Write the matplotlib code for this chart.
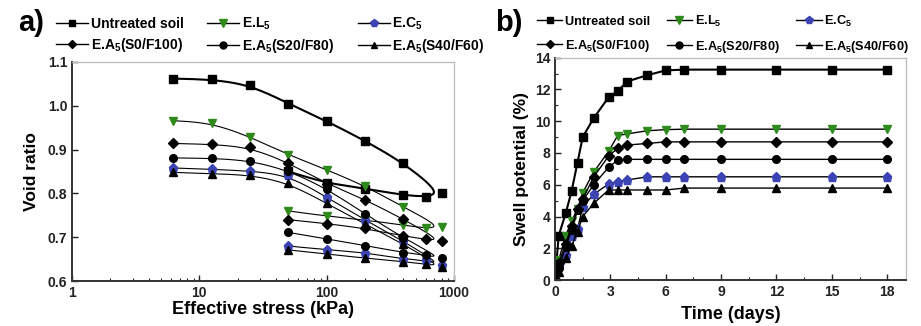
import numpy as np
import matplotlib
matplotlib.use("Agg")
import matplotlib.pyplot as plt
from matplotlib.ticker import MultipleLocator

plt.rcParams['font.family'] = ['Liberation Sans', 'DejaVu Sans']
plt.rcParams['font.weight'] = 'bold'
plt.rcParams['mathtext.fontset'] = 'custom'
plt.rcParams['mathtext.rm'] = 'Liberation Sans:bold'
plt.rcParams['mathtext.bf'] = 'Liberation Sans:bold'
plt.rcParams['mathtext.default'] = 'bf'

# ---------------- data: panel a (void ratio vs effective stress) ----------------
series_names = ['Untreated soil', r'E.L$_5$', r'E.C$_5$',
                r'E.A$_5$(S0/F100)', r'E.A$_5$(S20/F80)', r'E.A$_5$(S40/F60)']
load_stress = [6.25, 12.5, 25, 50, 100, 200, 400]
peak_stress = 800
unload_stress = [600, 400, 200, 100, 50]

load_untreated = [1.062, 1.060, 1.048, 1.005, 0.965, 0.920, 0.870]
peak_untreated = 0.800
unload_untreated = [0.792, 0.796, 0.811, 0.823, 0.850]

load_EL5 = [0.966, 0.961, 0.929, 0.888, 0.854, 0.817, 0.769]
peak_EL5 = 0.723
unload_EL5 = [0.720, 0.728, 0.739, 0.748, 0.760]

load_EC5 = [0.858, 0.855, 0.851, 0.842, 0.791, 0.739, 0.691]
peak_EC5 = 0.637
unload_EC5 = [0.647, 0.650, 0.665, 0.671, 0.680]

load_S0 = [0.914, 0.912, 0.905, 0.870, 0.822, 0.786, 0.741]
peak_S0 = 0.692
unload_S0 = [0.695, 0.703, 0.720, 0.731, 0.740]

load_S20 = [0.881, 0.880, 0.875, 0.852, 0.811, 0.753, 0.698]
peak_S20 = 0.652
unload_S20 = [0.659, 0.665, 0.681, 0.696, 0.711]

load_S40 = [0.848, 0.845, 0.842, 0.824, 0.777, 0.730, 0.684]
peak_S40 = 0.633
unload_S40 = [0.639, 0.644, 0.652, 0.662, 0.671]

# ---------------- data: panel b (swell potential vs time) ----------------
time_days = [0, 0.2, 0.58, 0.9, 1.22, 1.5, 2.1, 2.9, 3.4, 3.9, 5, 6, 7, 9, 12, 15, 18]
swell_untreated = [0, 2.8, 4.2, 5.6, 7.4, 9.0, 10.2, 11.5, 11.9, 12.5, 12.9, 13.2, 13.25, 13.25, 13.25, 13.25, 13.25]
swell_EL5 = [0, 1.25, 2.8, 3.7, 4.5, 5.5, 6.8, 8.1, 9.1, 9.2, 9.4, 9.47, 9.5, 9.5, 9.5, 9.5, 9.5]
swell_EC5 = [0, 0.88, 1.6, 2.75, 3.2, 4.6, 5.4, 6.05, 6.2, 6.3, 6.5, 6.5, 6.5, 6.5, 6.5, 6.5, 6.5]
swell_S0 = [0, 1.05, 2.3, 3.4, 4.47, 5.1, 6.5, 7.8, 8.3, 8.5, 8.6, 8.7, 8.7, 8.7, 8.7, 8.7, 8.7]
swell_S20 = [0, 0.75, 2.1, 3.15, 4.4, 5.0, 6.0, 7.1, 7.55, 7.6, 7.6, 7.6, 7.6, 7.6, 7.6, 7.6, 7.6]
swell_S40 = [0, 0.52, 1.36, 2.14, 3.04, 4.0, 4.83, 5.67, 5.67, 5.67, 5.67, 5.67, 5.79, 5.79, 5.79, 5.79, 5.79]

# ---------------- styles ----------------
GREEN = '#2f8a1c'
BLUE = '#3c44b4'
styles = [
    dict(marker='s', mfc='black', mec='black', lw=1.5),
    dict(marker='v', mfc=GREEN, mec=GREEN, lw=0.8),
    dict(marker='p', mfc=BLUE, mec=BLUE, lw=0.8),
    dict(marker='D', mfc='black', mec='black', lw=0.8),
    dict(marker='o', mfc='black', mec='black', lw=0.8),
    dict(marker='^', mfc='black', mec='black', lw=0.8),
]
msizes = [5.5, 6, 6.5, 5, 5.5, 5.5]

loads = [load_untreated, load_EL5, load_EC5, load_S0, load_S20, load_S40]
peaks = [peak_untreated, peak_EL5, peak_EC5, peak_S0, peak_S20, peak_S40]
unloads = [unload_untreated, unload_EL5, unload_EC5, unload_S0, unload_S20, unload_S40]
swells = [swell_untreated, swell_EL5, swell_EC5, swell_S0, swell_S20, swell_S40]


def bspline(px, py, n=40):
    """Clamped uniform cubic B-spline through control points (px, py)."""
    px = np.concatenate([[px[0]] * 2, px, [px[-1]] * 2])
    py = np.concatenate([[py[0]] * 2, py, [py[-1]] * 2])
    xs, ys = [], []
    t = np.linspace(0, 1, n)
    b0 = (1 - t) ** 3 / 6
    b1 = (3 * t ** 3 - 6 * t ** 2 + 4) / 6
    b2 = (-3 * t ** 3 + 3 * t ** 2 + 3 * t + 1) / 6
    b3 = t ** 3 / 6
    for i in range(len(px) - 3):
        xs.append(b0 * px[i] + b1 * px[i + 1] + b2 * px[i + 2] + b3 * px[i + 3])
        ys.append(b0 * py[i] + b1 * py[i + 1] + b2 * py[i + 2] + b3 * py[i + 3])
    return np.concatenate(xs), np.concatenate(ys)


fig = plt.figure(figsize=(9.21, 3.26), dpi=100)
axa = fig.add_axes([0.0782, 0.138, 0.4148, 0.672])
axb = fig.add_axes([0.6026, 0.141, 0.3808, 0.682])

# -------- panel a --------
for ld, pk, ul, st, ms in zip(loads, peaks, unloads, styles, msizes):
    allx = load_stress + [peak_stress] + unload_stress
    ally = ld + [pk] + ul
    sx, sy = bspline(np.log10(np.array(allx, float)), np.array(ally, float))
    axa.plot(10 ** sx, sy, color='black', lw=st['lw'], zorder=2)
    axa.plot(allx, ally, ls='none', marker=st['marker'], mfc=st['mfc'], mec=st['mec'],
             ms=ms, zorder=3)

axa.set_xscale('log')
axa.set_xlim(1, 1000)
axa.set_ylim(0.6, 1.1)
axa.yaxis.set_major_locator(MultipleLocator(0.1))
axa.set_xticks([1, 10, 100, 1000])
axa.set_xticklabels(['1', '10', '100', '1000'])
axa.set_xlabel('Effective stress (kPa)', fontsize=13, fontweight='bold', labelpad=1)
axa.set_ylabel('Void ratio', fontsize=12.5, fontweight='bold', labelpad=6)

# -------- panel b --------
for sw, st, ms in zip(swells, styles, msizes):
    axb.plot(time_days, sw, color='black', lw=st['lw'] if st['lw'] > 1 else 1.0,
             marker=st['marker'], mfc=st['mfc'], mec=st['mec'], ms=ms)

axb.set_xlim(0, 19)
axb.set_ylim(0, 14)
axb.xaxis.set_major_locator(MultipleLocator(3))
axb.xaxis.set_minor_locator(MultipleLocator(1.5))
axb.yaxis.set_major_locator(MultipleLocator(2))
axb.yaxis.set_minor_locator(MultipleLocator(1))
axb.set_xlabel('Time (days)', fontsize=13, fontweight='bold', labelpad=5)
axb.set_ylabel('Swell potential (%)', fontsize=12.5, fontweight='bold', labelpad=4)

for ax in (axa, axb):
    for s in ('left', 'bottom'):
        ax.spines[s].set_color('#333333')
        ax.spines[s].set_linewidth(1.4)
    for s in ('top', 'right'):
        ax.spines[s].set_color('#bbbbbb')
        ax.spines[s].set_linewidth(0.9)
    ax.tick_params(which='both', direction='in', top=False, right=False,
                   labelsize=10, colors='#222222')
    ax.tick_params(which='major', length=4, width=1)
    ax.tick_params(which='minor', length=2.5, width=0.8)
    for lab in ax.get_xticklabels() + ax.get_yticklabels():
        lab.set_fontweight('bold')

# -------- legends --------
order = [0, 3, 1, 4, 2, 5]
legend_cfg = [
    (axa, (-0.06, 1.0), 10.0, 1.7, 0.35, 2.3),
    (axb, (-0.07, 0.985), 9.2, 1.3, 0.75, 2.0),
]
for ax, bx, fs, cs, lsp, hl in legend_cfg:
    hs, ls = [], []
    for i in order:
        st = styles[i]
        h, = ax.plot([], [], color='black', lw=1.0, marker=st['marker'],
                     mfc=st['mfc'], mec=st['mec'], ms=msizes[i] - 0.5)
        hs.append(h)
        ls.append(series_names[i])
    ax.legend(hs, ls, ncol=3, loc='lower left', bbox_to_anchor=bx, frameon=False,
              prop={'size': fs, 'weight': 'bold'}, handlelength=hl, handletextpad=0.2,
              columnspacing=cs, labelspacing=lsp, borderaxespad=0.3, borderpad=0.2)

fig.text(0.02, 0.905, 'a)', fontsize=21, fontweight='bold')
fig.text(0.538, 0.905, 'b)', fontsize=21, fontweight='bold')

fig.savefig('out.png', dpi=100)
